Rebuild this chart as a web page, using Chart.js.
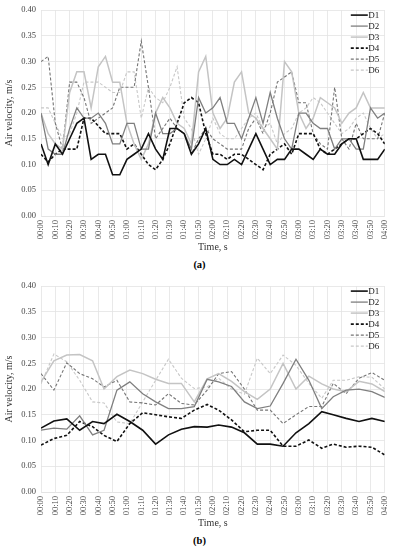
<!DOCTYPE html>
<html>
<head>
<meta charset="utf-8">
<script src="https://cdn.jsdelivr.net/npm/chart.js@4/dist/chart.umd.min.js"></script>
<style>
  body { margin: 0; background: #fff; width: 399px; height: 550px; position: relative; overflow: hidden; }
  .box { position: absolute; left: 0; width: 399px; height: 256px; }
  .cap { position: absolute; left: 0; width: 399px; text-align: center; font-family: "Liberation Serif", serif; font-size: 10.5px; font-weight: bold; }
</style>
</head>
<body>
<div class="box" style="top:0"><canvas id="chartA" width="399" height="256"></canvas></div>
<div class="cap" style="top:259px">(a)</div>
<div class="box" style="top:276px"><canvas id="chartB" width="399" height="256"></canvas></div>
<div class="cap" style="top:535px">(b)</div>
<script>
const seriesNames = ['D1', 'D2', 'D3', 'D4', 'D5', 'D6'];

// (a) readings every 5 s
const timesA = [0, 5, 10, 15, 20, 25, 30, 35, 40, 45, 50, 55, 60, 65, 70, 75, 80, 85, 90, 95,
  100, 105, 110, 115, 120, 125, 130, 135, 140, 145, 150, 155, 160, 165, 170, 175, 180, 185, 190, 195,
  200, 205, 210, 215, 220, 225, 230, 235, 240];
const d1A = [0.14, 0.10, 0.14, 0.12, 0.15, 0.18, 0.19, 0.11, 0.12, 0.12, 0.08, 0.08, 0.11, 0.12, 0.13, 0.16, 0.13, 0.11, 0.17, 0.17,
  0.16, 0.12, 0.14, 0.17, 0.11, 0.10, 0.10, 0.11, 0.10, 0.13, 0.16, 0.13, 0.10, 0.11, 0.11, 0.13, 0.13, 0.12, 0.11, 0.13,
  0.12, 0.12, 0.14, 0.15, 0.15, 0.11, 0.11, 0.11, 0.13];
const d2A = [0.20, 0.13, 0.12, 0.12, 0.17, 0.21, 0.19, 0.19, 0.20, 0.18, 0.14, 0.14, 0.18, 0.18, 0.13, 0.13, 0.20, 0.16, 0.16, 0.17,
  0.16, 0.13, 0.23, 0.20, 0.21, 0.23, 0.18, 0.18, 0.15, 0.19, 0.23, 0.18, 0.24, 0.19, 0.15, 0.13, 0.20, 0.20, 0.18, 0.17,
  0.17, 0.13, 0.15, 0.15, 0.13, 0.13, 0.21, 0.19, 0.20];
const d3A = [0.20, 0.16, 0.14, 0.13, 0.24, 0.28, 0.28, 0.21, 0.29, 0.31, 0.26, 0.26, 0.18, 0.14, 0.11, 0.14, 0.20, 0.23, 0.21, 0.18,
  0.17, 0.14, 0.28, 0.31, 0.20, 0.17, 0.19, 0.26, 0.28, 0.20, 0.19, 0.17, 0.15, 0.13, 0.30, 0.28, 0.20, 0.17, 0.19, 0.23,
  0.22, 0.21, 0.18, 0.20, 0.21, 0.24, 0.21, 0.21, 0.21];
const d4A = [0.12, 0.105, 0.12, 0.13, 0.13, 0.13, 0.19, 0.19, 0.175, 0.16, 0.16, 0.16, 0.13, 0.14, 0.12, 0.10, 0.09, 0.11, 0.14, 0.18,
  0.22, 0.23, 0.22, 0.16, 0.12, 0.12, 0.11, 0.12, 0.12, 0.11, 0.10, 0.09, 0.12, 0.13, 0.14, 0.12, 0.16, 0.16, 0.16, 0.13,
  0.12, 0.13, 0.14, 0.15, 0.15, 0.16, 0.17, 0.16, 0.14];
const d5A = [0.30, 0.31, 0.18, 0.13, 0.26, 0.26, 0.23, 0.18, 0.19, 0.20, 0.21, 0.25, 0.25, 0.25, 0.34, 0.25, 0.15, 0.17, 0.19, 0.17,
  0.16, 0.12, 0.15, 0.17, 0.15, 0.14, 0.13, 0.13, 0.13, 0.17, 0.19, 0.16, 0.20, 0.26, 0.27, 0.28, 0.22, 0.22, 0.16, 0.14,
  0.13, 0.25, 0.15, 0.13, 0.18, 0.15, 0.15, 0.15, 0.20];
const d6A = [0.21, 0.21, 0.18, 0.15, 0.16, 0.20, 0.26, 0.26, 0.26, 0.25, 0.24, 0.24, 0.28, 0.28, 0.19, 0.25, 0.23, 0.22, 0.25, 0.29,
  0.19, 0.17, 0.12, 0.15, 0.19, 0.16, 0.15, 0.15, 0.17, 0.19, 0.20, 0.17, 0.18, 0.14, 0.16, 0.17, 0.20, 0.21, 0.23, 0.22,
  0.20, 0.18, 0.16, 0.17, 0.19, 0.20, 0.17, 0.15, 0.16];

// (b) readings roughly every 9 s
const timesB = [0, 9, 18, 27, 36, 44, 53, 62, 71, 80, 89, 98, 107, 116, 124, 133, 142, 151, 160, 169,
  178, 187, 196, 204, 213, 222, 231, 240];
const d1B = [0.124, 0.138, 0.142, 0.12, 0.137, 0.133, 0.151, 0.137, 0.12, 0.093, 0.111, 0.122, 0.127, 0.126,
  0.13, 0.126, 0.115, 0.093, 0.093, 0.089, 0.115, 0.133, 0.156, 0.15, 0.143, 0.137, 0.143, 0.137];
const d2B = [0.12, 0.124, 0.122, 0.148, 0.111, 0.12, 0.198, 0.214, 0.191, 0.175, 0.162, 0.162, 0.166, 0.219,
  0.214, 0.205, 0.175, 0.162, 0.167, 0.211, 0.258, 0.217, 0.162, 0.185, 0.198, 0.2, 0.195, 0.184];
const d3B = [0.214, 0.255, 0.266, 0.267, 0.255, 0.2, 0.224, 0.237, 0.23, 0.219, 0.211, 0.211, 0.175, 0.22,
  0.23, 0.215, 0.195, 0.18, 0.2, 0.25, 0.2, 0.225, 0.21, 0.2, 0.195, 0.215, 0.21, 0.195];
const d4B = [0.091, 0.104, 0.11, 0.137, 0.127, 0.11, 0.098, 0.133, 0.154, 0.15, 0.146, 0.143, 0.159, 0.17,
  0.159, 0.14, 0.117, 0.12, 0.12, 0.089, 0.089, 0.101, 0.085, 0.093, 0.087, 0.089, 0.087, 0.072];
const d5B = [0.23, 0.198, 0.251, 0.23, 0.22, 0.204, 0.217, 0.175, 0.173, 0.169, 0.191, 0.172, 0.169, 0.198,
  0.23, 0.234, 0.2, 0.159, 0.159, 0.133, 0.15, 0.166, 0.166, 0.211, 0.191, 0.221, 0.232, 0.217];
const d6B = [0.21, 0.268, 0.253, 0.217, 0.175, 0.173, 0.136, 0.133, 0.175, 0.217, 0.258, 0.221, 0.201, 0.204,
  0.221, 0.2, 0.19, 0.26, 0.23, 0.266, 0.246, 0.211, 0.182, 0.217, 0.217, 0.224, 0.223, 0.2];

const yTicks = [0, 0.05, 0.10, 0.15, 0.20, 0.25, 0.30, 0.35, 0.40];

const styles = [
  { color: '#111111', width: 1.6, dash: [] },
  { color: '#7f7f7f', width: 1.3, dash: [] },
  { color: '#c4c4c4', width: 1.5, dash: [] },
  { color: '#111111', width: 1.6, dash: [3, 2] },
  { color: '#747474', width: 1.1, dash: [3, 2] },
  { color: '#c8c8c8', width: 1.1, dash: [3, 2] }
];

const serif = '"Liberation Serif", "DejaVu Serif", serif';

const fmtTime = (s) => {
  const m = Math.floor(s / 60);
  const r = Math.round(s % 60);
  return String(m).padStart(2, '0') + ':' + String(r).padStart(2, '0');
};

// legend drawn inside the top-right corner of the plot
const cornerLegend = {
  id: 'cornerLegend',
  afterDraw(chart) {
    const ctx = chart.ctx;
    const area = chart.chartArea;
    ctx.save();
    ctx.font = '9px ' + serif;
    ctx.textBaseline = 'middle';
    ctx.textAlign = 'left';
    chart.data.datasets.forEach((ds, i) => {
      const y = area.top + 5 + i * 11;
      ctx.strokeStyle = ds.borderColor;
      ctx.lineWidth = ds.borderWidth;
      ctx.setLineDash(ds.borderDash);
      ctx.beginPath();
      ctx.moveTo(area.right - 34, y);
      ctx.lineTo(area.right - 17, y);
      ctx.stroke();
      ctx.setLineDash([]);
      ctx.fillStyle = '#222';
      ctx.fillText(ds.label, area.right - 16.5, y + 0.5);
    });
    ctx.restore();
  }
};

const makeChart = (id, times, values) => {
  const datasets = values.map((vals, i) => ({
    label: seriesNames[i],
    data: vals.map((v, k) => ({ x: times[k], y: v })),
    borderColor: styles[i].color,
    borderWidth: styles[i].width,
    borderDash: styles[i].dash,
    pointRadius: 0,
    tension: 0,
    fill: false
  }));

  return new Chart(document.getElementById(id), {
    type: 'line',
    data: { datasets },
    plugins: [cornerLegend],
    options: {
      responsive: false,
      animation: false,
      layout: { padding: { top: 10, right: 10, left: 0, bottom: 0 } },
      plugins: { legend: { display: false }, tooltip: { enabled: false } },
      scales: {
        x: {
          type: 'linear',
          min: 0,
          max: 240,
          afterFit: (scale) => { scale.height = 40; },
          grid: { color: '#e3e3e3', lineWidth: 0.8, drawTicks: false },
          border: { color: '#e3e3e3', width: 0.8 },
          ticks: {
            stepSize: 10,
            maxTicksLimit: 30,
            autoSkip: false,
            minRotation: 90,
            maxRotation: 90,
            padding: 4,
            color: '#444',
            font: { family: serif, size: 8.5 },
            callback: (v) => fmtTime(v)
          },
          title: {
            display: true,
            text: 'Time, s',
            color: '#333',
            font: { family: serif, size: 10 },
            padding: { top: 2, bottom: 3 }
          }
        },
        y: {
          min: 0,
          max: 0.4,
          afterFit: (scale) => { scale.width = 41; },
          afterBuildTicks: (scale) => { scale.ticks = yTicks.map((v) => ({ value: v })); },
          grid: { color: '#e3e3e3', lineWidth: 0.8, drawTicks: false },
          border: { display: false },
          ticks: {
            padding: 5,
            color: '#444',
            font: { family: serif, size: 8.5 },
            callback: (v) => Number(v).toFixed(2)
          },
          title: {
            display: true,
            text: 'Air velocity, m/s',
            color: '#333',
            font: { family: serif, size: 10 },
            padding: { top: 3, bottom: 2 }
          }
        }
      }
    }
  });
};

makeChart('chartA', timesA, [d1A, d2A, d3A, d4A, d5A, d6A]);
makeChart('chartB', timesB, [d1B, d2B, d3B, d4B, d5B, d6B]);
</script>
</body>
</html>
